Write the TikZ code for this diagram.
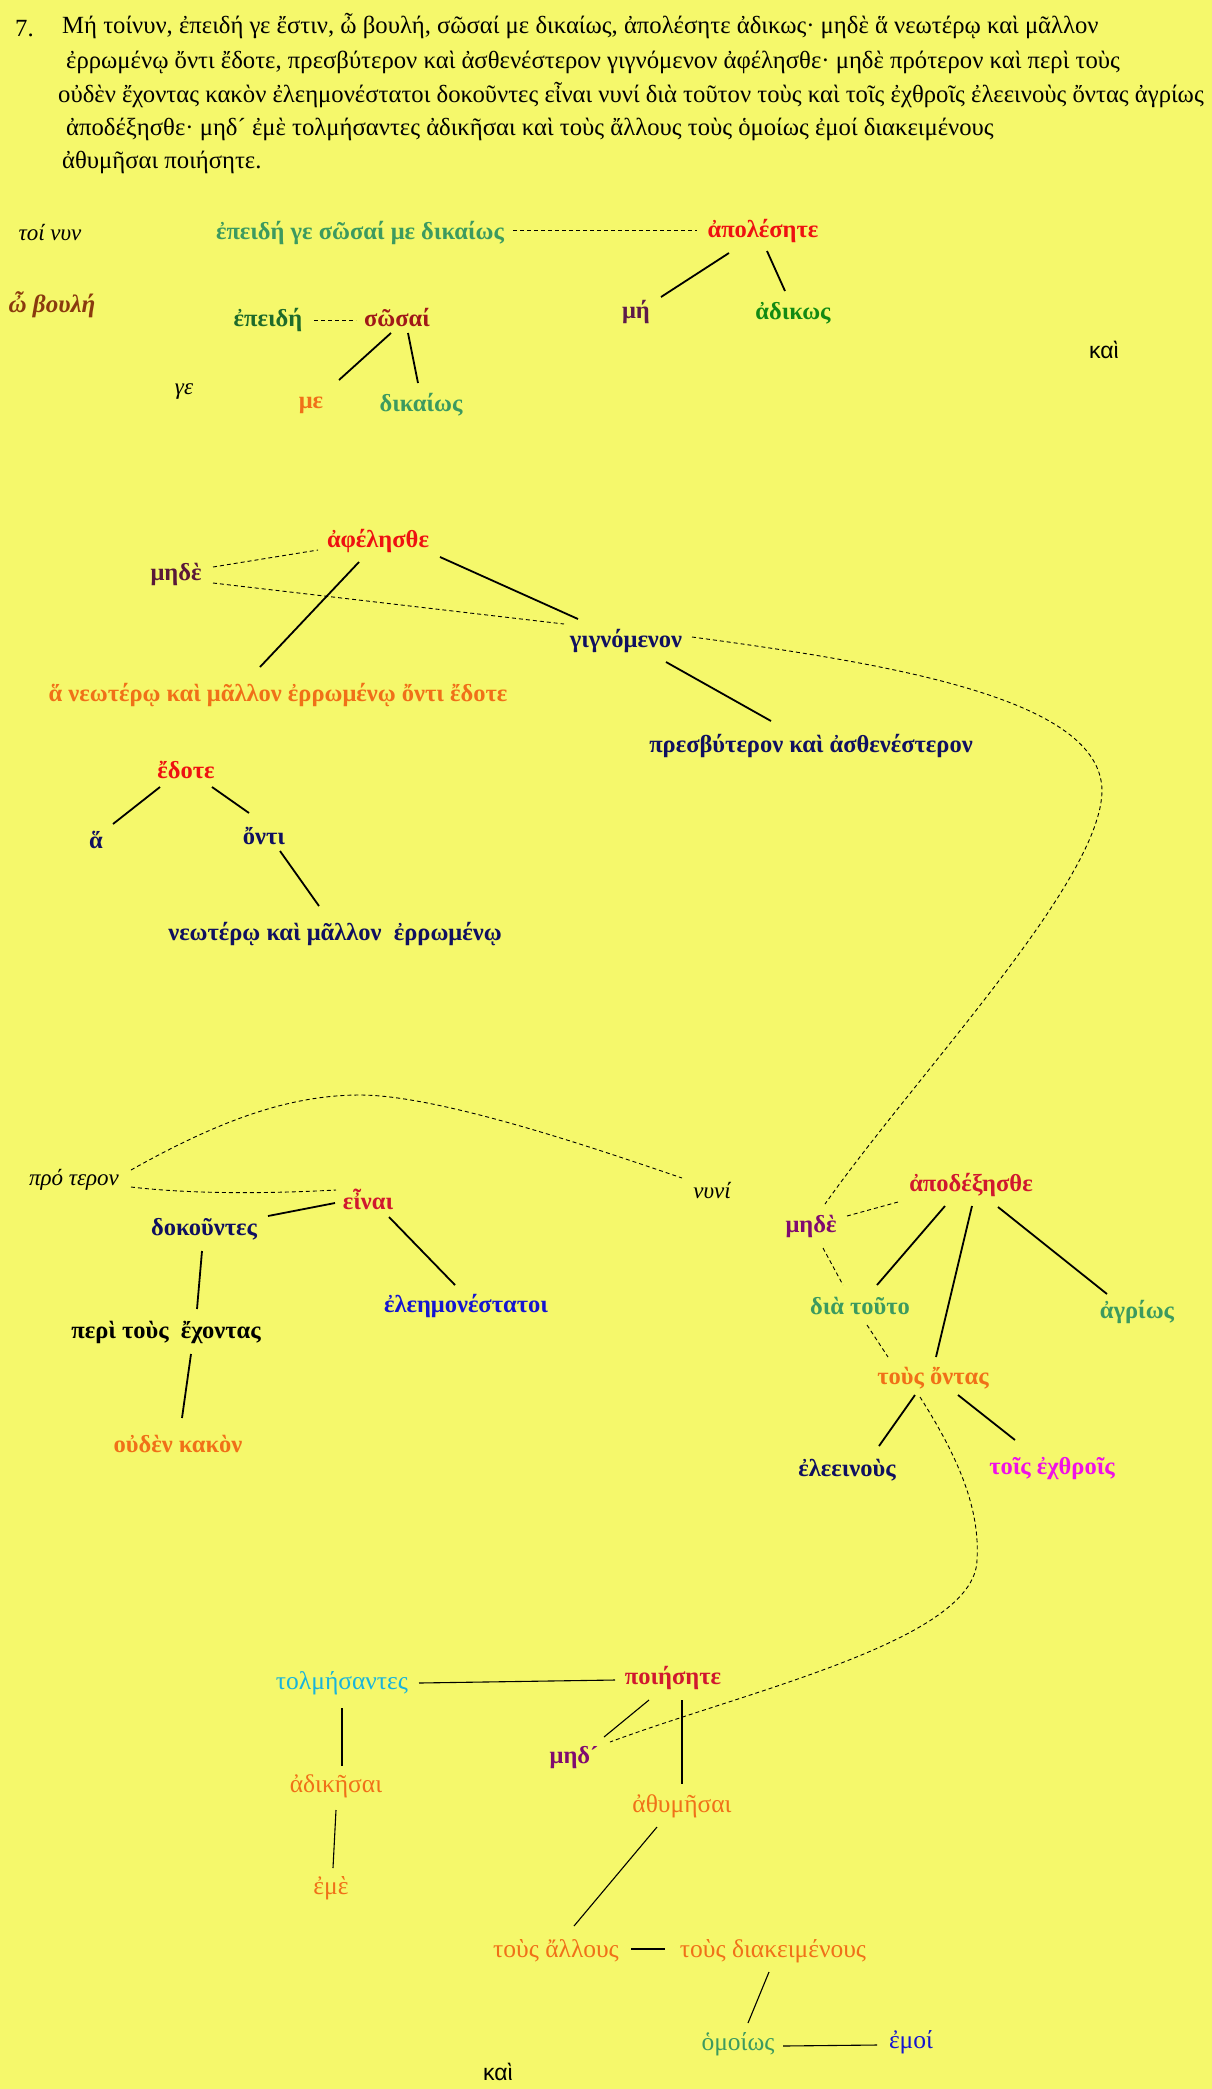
\documentclass[tikz,border=0pt]{standalone}
\usepackage{fontspec}
\setmainfont{Liberation Serif}
\newfontfamily\sansgr{Liberation Sans}
\usetikzlibrary{calc}
\definecolor{bg}{HTML}{F5F86B}
\definecolor{cteal}{HTML}{3C9A5F}
\definecolor{cdkgreen}{HTML}{1F6B2A}
\definecolor{cdarkred}{HTML}{A01818}
\definecolor{cred}{HTML}{EE1111}
\definecolor{cplum}{HTML}{5E1A4A}
\definecolor{cgreen}{HTML}{138A13}
\definecolor{corange}{HTML}{F07018}
\definecolor{cbrown}{HTML}{8A3A0E}
\definecolor{cmaroon}{HTML}{5A1838}
\definecolor{cnavy}{HTML}{101060}
\definecolor{ccrimson}{HTML}{D0182E}
\definecolor{cblue}{HTML}{1515D0}
\definecolor{cpurple}{HTML}{800A70}
\definecolor{cmagenta}{HTML}{F010E8}
\definecolor{ccyan}{HTML}{18B4DC}
\begin{document}
\begin{tikzpicture}[x=1pt,y=-1pt,
  hdr/.style={inner sep=0pt, anchor=base west, font=\fontsize{24.7}{29}\selectfont},
  lbl/.style={inner sep=0pt, font=\fontsize{24.5}{29}\selectfont\bfseries},
  rlbl/.style={inner sep=0pt, font=\fontsize{25.5}{30}\selectfont},
  itl/.style={inner sep=0pt, font=\fontsize{23}{27}\selectfont\itshape},
  sns/.style={inner sep=0pt, font=\fontsize{23}{27}\sansgr},
  ln/.style={line width=1.8pt},
  tln/.style={line width=1.1pt},
  dsh/.style={line width=0.9pt, dash pattern=on 4pt off 3pt},
]
\fill[bg] (0,0) rectangle (1212,2089);
\useasboundingbox (0,0) rectangle (1212,2089);

% header
\node[hdr] (num) at (15,36) {7.};
\node[hdr] (h1) at (62,33) {Μή τοίνυν, ἐπειδή γε ἔστιν, ὦ βουλή, σῶσαί με δικαίως, ἀπολέσητε ἀδικως· μηδὲ ἅ νεωτέρῳ καὶ μᾶλλον};
\node[hdr] (h2) at (66,68) {ἐρρωμένῳ ὄντι ἔδοτε, πρεσβύτερον καὶ ἀσθενέστερον γιγνόμενον ἀφέλησθε· μηδὲ πρότερον καὶ περὶ τοὺς};
\node[hdr] (h3) at (58,102) {οὐδὲν ἔχοντας κακὸν ἐλεημονέστατοι δοκοῦντες εἶναι νυνί διὰ τοῦτον τοὺς καὶ τοῖς ἐχθροῖς ἐλεεινοὺς ὄντας ἀγρίως};
\node[hdr] (h4) at (66,135) {ἀποδέξησθε· μηδ´ ἐμὲ τολμήσαντες ἀδικῆσαι καὶ τοὺς ἄλλους τοὺς ὁμοίως ἐμοί διακειμένους};
\node[hdr] (h5) at (62,168) {ἀθυμῆσαι ποιήσητε.};

% section 1
\node[itl] (tolnun) at (50,233) {τοί νυν};
\node[lbl,text=cteal] (phrase) at (360,233) {ἐπειδή γε σῶσαί με δικαίως};
\node[lbl,text=cred] (apol) at (763,231) {ἀπολέσητε};
\node[lbl,text=cplum] (mh) at (636,312) {μή};
\node[lbl,text=cgreen] (adik) at (793,313) {ἀδικως};
\node[sns] (kaiA) at (1104,350) {καὶ};
\node[inner sep=0pt,font=\fontsize{25}{29}\selectfont\itshape\bfseries,text=cbrown] (boule) at (52,305) {ὦ βουλή};
\node[lbl,text=cdkgreen] (epeidh) at (268,320) {ἐπειδή};
\node[lbl,text=cdarkred] (swsai) at (397,318) {σῶσαί};
\node[itl] (ge) at (184,392) {γε};
\node[lbl,text=corange] (me) at (311,405) {με};
\node[lbl,text=cteal] (dikaiws) at (421,405) {δικαίως};

\draw[dsh] ($(phrase)+(153,-3)$) -- ($(apol)+(-66,-1)$);
\draw[ln] ($(apol)+(-34,22)$) -- ($(mh)+(25,-15)$);
\draw[ln] ($(apol)+(4,20)$) -- ($(adik)+(-8,-22)$);
\draw[dsh] ($(epeidh)+(46,0)$) -- ($(swsai)+(-41,2)$);
\draw[ln] ($(swsai)+(-6,15)$) -- ($(me)+(28,-25)$);
\draw[ln] ($(swsai)+(11,15)$) -- ($(dikaiws)+(-3,-22)$);

% section 2
\node[lbl,text=cred] (afel) at (378,541) {ἀφέλησθε};
\node[lbl,text=cmaroon] (mhdeA) at (176,574) {μηδὲ};
\node[lbl,text=cnavy] (gign) at (626,641) {γιγνόμενον};
\node[lbl,text=cnavy] (presb) at (811,746) {πρεσβύτερον καὶ ἀσθενέστερον};
\node[lbl,text=corange] (anewt) at (278,695) {ἅ νεωτέρῳ καὶ μᾶλλον ἐρρωμένῳ ὄντι ἔδοτε};

\draw[dsh] ($(mhdeA)+(37,-7)$) -- ($(afel)+(-60,9)$);
\draw[dsh] ($(mhdeA)+(37,9)$) -- ($(gign)+(-62,-17)$);
\draw[ln] ($(afel)+(-19,21)$) -- ($(anewt)+(-18,-28)$);
\draw[ln] ($(afel)+(62,16)$) -- ($(gign)+(-48,-22)$);
\draw[ln] ($(gign)+(40,21)$) -- ($(presb)+(-40,-25)$);

% section 3
\node[lbl,text=cred] (edote) at (186,770) {ἔδοτε};
\node[lbl,text=cnavy] (ha) at (96,840) {ἅ};
\node[lbl,text=cnavy] (onti) at (264,836) {ὄντι};
\node[lbl,text=cnavy] (newt) at (335,934) {νεωτέρῳ καὶ μᾶλλον\ \ ἐρρωμένῳ};

\draw[ln] ($(edote)+(-26,17)$) -- ($(ha)+(17,-16)$);
\draw[ln] ($(edote)+(26,17)$) -- ($(onti)+(-15,-23)$);
\draw[ln] ($(onti)+(16,15)$) -- ($(newt)+(-16,-28)$);

% section 4 left
\node[itl] (proteron) at (74,1180) {πρό τερον};
\node[itl] (nuni) at (712,1190) {νυνί};
\node[lbl,text=ccrimson] (einai) at (368,1199) {εἶναι};
\node[lbl,text=cnavy] (dokountes) at (204,1229) {δοκοῦντες};
\node[lbl,text=cblue] (eleem) at (466,1306) {ἐλεημονέστατοι};
\node[lbl] (peri) at (166,1332) {περὶ τοὺς\ \ ἔχοντας};
\node[lbl,text=corange] (ouden) at (178,1444) {οὐδὲν κακὸν};

\draw[dsh] ($(proteron)+(57,-10)$) .. controls (220,1120) and (290,1095) .. (360,1095)
  .. controls (440,1095) and (600,1150) .. ($(nuni)+(-30,-12)$);
\draw[dsh] ($(proteron)+(57,7)$) .. controls (200,1195) and (280,1193) .. ($(einai)+(-32,-9)$);
\draw[ln] ($(einai)+(-33,4)$) -- ($(dokountes)+(64,-13)$);
\draw[ln] ($(einai)+(21,18)$) -- ($(eleem)+(-11,-21)$);
\draw[ln] ($(dokountes)+(-2,22)$) -- ($(peri)+(31,-23)$);
\draw[ln] ($(peri)+(25,22)$) -- ($(ouden)+(4,-26)$);

% section 4 right
\node[lbl,text=ccrimson] (apod) at (971,1185) {ἀποδέξησθε};
\node[lbl,text=cpurple] (mhdeB) at (811,1226) {μηδὲ};
\node[lbl,text=cteal] (dia) at (860,1306) {διὰ τοῦτο};
\node[lbl,text=cteal] (agriws) at (1137,1312) {ἀγρίως};
\node[lbl,text=corange] (tousont) at (933,1378) {τοὺς ὄντας};
\node[lbl,text=cnavy] (eleein) at (847,1470) {ἐλεεινοὺς};
\node[lbl,text=cmagenta] (echthr) at (1052,1469) {τοῖς ἐχθροῖς};

\draw[dsh] ($(gign)+(66,-4)$) .. controls (900,665) and (1100,700) .. (1102,790)
  .. controls (1102,880) and (920,1070) .. ($(mhdeB)+(14,-22)$);
\draw[dsh] ($(apod)+(-73,17)$) -- ($(mhdeB)+(36,-10)$);
\draw[dsh] ($(mhdeB)+(12,22)$) -- ($(dia)+(-17,-21)$);
\draw[dsh] ($(dia)+(7,19)$) -- ($(tousont)+(-45,-21)$);
\draw[ln] ($(apod)+(-26,21)$) -- ($(dia)+(17,-21)$);
\draw[ln] ($(apod)+(1,21)$) -- ($(tousont)+(3,-21)$);
\draw[ln] ($(apod)+(27,22)$) -- ($(agriws)+(-30,-18)$);
\draw[ln] ($(tousont)+(-18,17)$) -- ($(eleein)+(32,-24)$);
\draw[ln] ($(tousont)+(25,17)$) -- ($(echthr)+(-37,-29)$);

% section 5
\node[rlbl,text=ccyan] (tolm) at (342,1683) {τολμήσαντες};
\node[lbl,text=ccrimson] (poihs) at (673,1678) {ποιήσητε};
\node[lbl,text=cpurple] (mhdC) at (574,1758) {μηδ´};
\node[rlbl,text=corange] (athum) at (682,1806) {ἀθυμῆσαι};
\node[rlbl,text=corange] (adikhs) at (336,1786) {ἀδικῆσαι};
\node[rlbl,text=corange] (eme) at (331,1888) {ἐμὲ};
\node[rlbl,text=corange] (tousall) at (556,1951) {τοὺς ἄλλους};
\node[rlbl,text=corange] (tousdiak) at (773,1951) {τοὺς διακειμένους};
\node[rlbl,text=cteal] (omoiws) at (738,2044) {ὁμοίως};
\node[rlbl,text=cblue] (emoi) at (911,2042) {ἐμοί};
\node[sns] (kaiB) at (498,2072) {καὶ};

\draw[dsh] ($(tousont)+(-13,19)$) .. controls (960,1460) and (980,1510) .. (977,1560)
  .. controls (975,1640) and (750,1690) .. ($(mhdC)+(36,-16)$);
\draw[tln] ($(tolm)+(77,0)$) -- ($(poihs)+(-58,2)$);
\draw[tln] ($(poihs)+(-24,22)$) -- ($(mhdC)+(30,-21)$);
\draw[tln] ($(poihs)+(9,22)$) -- ($(athum)+(0,-22)$);
\draw[tln] ($(tolm)+(0,25)$) -- ($(adikhs)+(6,-20)$);
\draw[tln] ($(adikhs)+(0,24)$) -- ($(eme)+(2,-20)$);
\draw[tln] ($(athum)+(-25,21)$) -- ($(tousall)+(18,-25)$);
\draw[tln] ($(tousall)+(75,-2)$) -- ($(tousdiak)+(-108,-2)$);
\draw[tln] ($(tousdiak)+(-4,21)$) -- ($(omoiws)+(10,-21)$);
\draw[tln] ($(omoiws)+(45,2)$) -- ($(emoi)+(-34,3)$);
\end{tikzpicture}
\end{document}
